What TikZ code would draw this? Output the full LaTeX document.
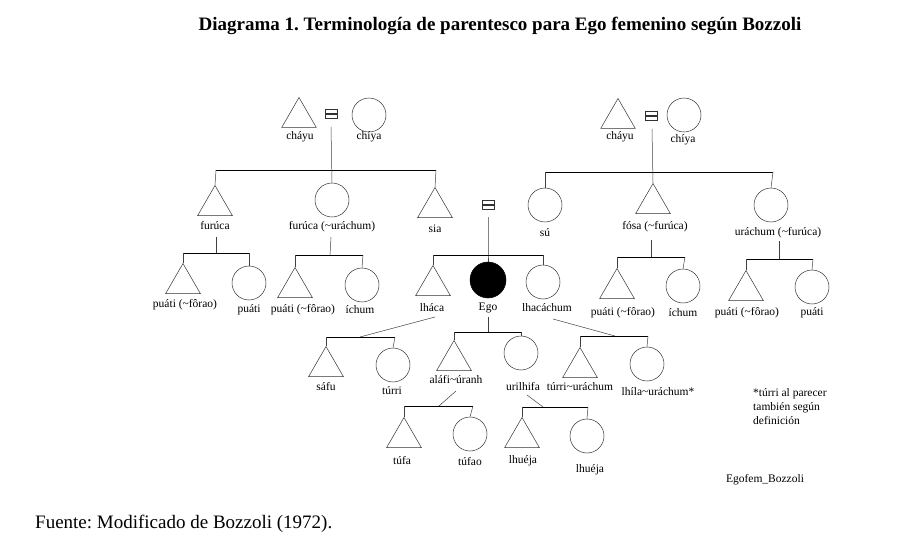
\documentclass[tikz,border=0pt]{standalone}
\usepackage{fontspec}
\setmainfont{Liberation Serif}
\usetikzlibrary{shapes.geometric}
\frenchspacing
\begin{document}
\begin{tikzpicture}[x=1pt,y=-1pt,
  male/.style={regular polygon, regular polygon sides=3, draw=black!80, line width=0.5pt, minimum size=40pt, inner sep=0pt, anchor=corner 1},
  female/.style={circle, draw=black!80, line width=0.5pt, minimum size=34pt, inner sep=0pt},
  ego/.style={female, fill=black, draw=black, minimum size=36pt},
  lbl/.style={font=\fontsize{11.5}{13}\selectfont, inner sep=0pt},
  link/.style={draw=black!75, line width=0.5pt},
  bar/.style={draw=black, line width=0.8pt},
  eqbox/.style={draw=black!80, line width=0.5pt, minimum width=12pt, minimum height=4pt, inner sep=0pt}
]
\useasboundingbox (0,0) rectangle (906,551);

% title and footer
\node[font=\fontsize{19}{22}\selectfont\bfseries, inner sep=0pt, anchor=base] (title) at (500,31) {Diagrama 1. Terminología de parentesco para Ego femenino según Bozzoli};
\node[font=\fontsize{19}{22}\selectfont, inner sep=0pt, anchor=base west] (fuente) at (35,528) {Fuente: Modificado de Bozzoli (1972).};
\node[lbl] (egofem) at (765,480) {Egofem\_Bozzoli};
\node[lbl, anchor=north west, align=left, font=\fontsize{11.5}{14}\selectfont] (nota) at (753,388) {*túrri al parecer\\también según\\definición};

% ---------- left grandparents
\node[male] (gfL) at (299,97) {};
\node[lbl] (gfLl) at (300,137) {cháyu};
\node[eqbox] (eqLa) at (331,111) {};
\node[eqbox] (eqLb) at (331,116) {};
\node[female] (gmL) at (369,115) {};
\node[lbl] (gmLl) at (369,137) {chíya};
\coordinate (eqLd) at (331,127);

% left generation 2
\node[male] (fur) at (215,185) {};
\node[lbl] (furl) at (215,226) {furúca};
\node[female] (furu) at (332,200) {};
\node[lbl] (furul) at (332,227) {furúca (\textasciitilde uráchum)};
\node[male] (sia) at (435,187) {};
\node[lbl] (sial) at (435,229) {sia};
\coordinate (bL1) at (216,170);
\coordinate (bL2) at (436,170);
\draw[bar] (bL1) -- (bL2);
\draw[link] (fur.corner 1) -- (bL1);
\draw[link] (sia.corner 1) -- (bL2);
\draw[link] (eqLd) -- (furu.north);

% children of furúca
\coordinate (fd1) at (216,237);
\coordinate (fd2) at (216,253);
\coordinate (fb1) at (183,253);
\coordinate (fb2) at (249,253);
\node[male] (c1) at (183,263) {};
\node[lbl] (c1l) at (185,305) {puáti (\textasciitilde fôrao)};
\node[female] (c2) at (249,283) {};
\node[lbl] (c2l) at (249,310) {puáti};
\draw[link] (fd1) -- (fd2);
\draw[bar] (fb1) -- (fb2);
\draw[link] (c1.corner 1) -- (fb1);
\draw[link] (c2.north) -- (fb2);

% children of furúca (~uráchum)
\coordinate (gd1) at (331,237);
\coordinate (gd2) at (330,255);
\coordinate (gb1) at (295,255);
\coordinate (gb2) at (363,255);
\node[male] (c3) at (295,267) {};
\node[lbl] (c3l) at (303,310) {puáti (\textasciitilde fôrao)};
\node[female] (c4) at (362,285) {};
\node[lbl] (c4l) at (360,310) {íchum};
\draw[link] (gd1) -- (gd2);
\draw[bar] (gb1) -- (gb2);
\draw[link] (c3.corner 1) -- (gb1);
\draw[link] (c4.north) -- (gb2);

% Ego's parents marriage and siblings
\node[eqbox] (eqEa) at (488,202) {};
\node[eqbox] (eqEb) at (488,207) {};
\coordinate (eqEd) at (488,217);
\coordinate (eb1) at (433,255);
\coordinate (eb2) at (543,255);
\coordinate (ebm) at (488,255);
\node[male] (lhaca) at (433,265) {};
\node[lbl] (lhacal) at (432,308) {lháca};
\node[ego] (ego) at (488,280) {};
\node[lbl] (egol) at (488,308) {Ego};
\node[female] (lhacach) at (543,282) {};
\node[lbl] (lhacachl) at (547,308) {lhacáchum};
\draw[link] (eqEd) -- (ebm) -- (ego.north);
\draw[bar] (eb1) -- (eb2);
\draw[link] (lhaca.corner 1) -- (eb1);
\draw[link] (lhacach.north) -- (eb2);

% children of lháca
\coordinate (ld1) at (435,317);
\coordinate (ld2) at (360,337);
\coordinate (lb1) at (326,337);
\coordinate (lb2) at (395,337);
\node[male] (safu) at (326,346) {};
\node[lbl] (saful) at (326,387) {sáfu};
\node[female] (turri) at (393,365) {};
\node[lbl] (turril) at (392,391) {túrri};
\draw[link] (ld1) -- (ld2);
\draw[bar] (lb1) -- (lb2);
\draw[link] (safu.corner 1) -- (lb1);
\draw[link] (turri.north) -- (lb2);

% children of Ego
\coordinate (ed1) at (488,317);
\coordinate (ed2) at (488,332);
\coordinate (kb1) at (454,332);
\coordinate (kb2) at (521,332);
\node[male] (alafi) at (454,340) {};
\node[lbl] (alafil) at (456,380) {aláfi\textasciitilde úranh};
\node[female] (uril) at (521,353) {};
\node[lbl] (urill) at (523,387) {urilhifa};
\draw[link] (ed1) -- (ed2);
\draw[bar] (kb1) -- (kb2);
\draw[link] (alafi.corner 1) -- (kb1);
\draw[link] (uril.north) -- (kb2);

% children of lhacáchum
\coordinate (hd1) at (553,319);
\coordinate (hd2) at (615,336);
\coordinate (hb1) at (580,336);
\coordinate (hb2) at (648,336);
\node[male] (tu) at (580,347) {};
\node[lbl] (tul) at (580,387) {túrri\textasciitilde uráchum};
\node[female] (lhila) at (647,364) {};
\node[lbl] (lhilal) at (658,392) {lhíla\textasciitilde uráchum*};
\draw[link] (hd1) -- (hd2);
\draw[bar] (hb1) -- (hb2);
\draw[link] (tu.corner 1) -- (hb1);
\draw[link] (lhila.north) -- (hb2);

% children of aláfi~úranh
\coordinate (ad1) at (456,391);
\coordinate (ad2) at (439,406);
\coordinate (ab1) at (404,406);
\coordinate (ab2) at (473,406);
\node[male] (tufa) at (404,417) {};
\node[lbl] (tufal) at (402,461) {túfa};
\node[female] (tufao) at (470,434) {};
\node[lbl] (tufaol) at (470,462) {túfao};
\draw[link] (ad1) -- (ad2);
\draw[bar] (ab1) -- (ab2);
\draw[link] (tufa.corner 1) -- (ab1);
\draw[link] (tufao.north) -- (ab2);

% children of urilhifa
\coordinate (ud1) at (527,395);
\coordinate (ud2) at (543,407);
\coordinate (ub1) at (522,407);
\coordinate (ub2) at (588,407);
\node[male] (lhu1) at (522,417) {};
\node[lbl] (lhu1l) at (523,461) {lhuéja};
\node[female] (lhu2) at (587,436) {};
\node[lbl] (lhu2l) at (590,470) {lhuéja};
\draw[link] (ud1) -- (ud2);
\draw[bar] (ub1) -- (ub2);
\draw[link] (lhu1.corner 1) -- (ub1);
\draw[link] (lhu2.north) -- (ub2);

% ---------- right grandparents
\node[male] (gfR) at (618,98) {};
\node[lbl] (gfRl) at (620,137) {cháyu};
\node[eqbox] (eqRa) at (651,113) {};
\node[eqbox] (eqRb) at (651,118) {};
\node[female] (gmR) at (684,115) {};
\node[lbl] (gmRl) at (683,140) {chíya};
\coordinate (eqRd) at (652,129);

% right generation 2
\node[female] (su) at (545,205) {};
\node[lbl] (sul) at (545,233) {sú};
\node[male] (fosa) at (653,183) {};
\node[lbl] (fosal) at (655,227) {fósa (\textasciitilde furúca)};
\node[female] (urach) at (771,205) {};
\node[lbl] (urachl) at (778,233) {uráchum (\textasciitilde furúca)};
\coordinate (bR1) at (545,172);
\coordinate (bR2) at (773,172);
\draw[bar] (bR1) -- (bR2);
\draw[link] (su.north) -- (bR1);
\draw[link] (urach.north) -- (bR2);
\draw[link] (eqRd) -- (fosa.corner 1);

% children of fósa
\coordinate (sd1) at (651,240);
\coordinate (sd2) at (651,257);
\coordinate (sb1) at (617,257);
\coordinate (sb2) at (685,257);
\node[male] (c5) at (617,268) {};
\node[lbl] (c5l) at (623,313) {puáti (\textasciitilde fôrao)};
\node[female] (c6) at (683,286) {};
\node[lbl] (c6l) at (683,313) {íchum};
\draw[link] (sd1) -- (sd2);
\draw[bar] (sb1) -- (sb2);
\draw[link] (c5.corner 1) -- (sb1);
\draw[link] (c6.north) -- (sb2);

% children of uráchum
\coordinate (rd1) at (779,241);
\coordinate (rd2) at (779,259);
\coordinate (rb1) at (746,259);
\coordinate (rb2) at (813,259);
\node[male] (c7) at (746,270) {};
\node[lbl] (c7l) at (747,313) {puáti (\textasciitilde fôrao)};
\node[female] (c8) at (812,287) {};
\node[lbl] (c8l) at (812,313) {puáti};
\draw[link] (rd1) -- (rd2);
\draw[bar] (rb1) -- (rb2);
\draw[link] (c7.corner 1) -- (rb1);
\draw[link] (c8.north) -- (rb2);
\end{tikzpicture}
\end{document}
